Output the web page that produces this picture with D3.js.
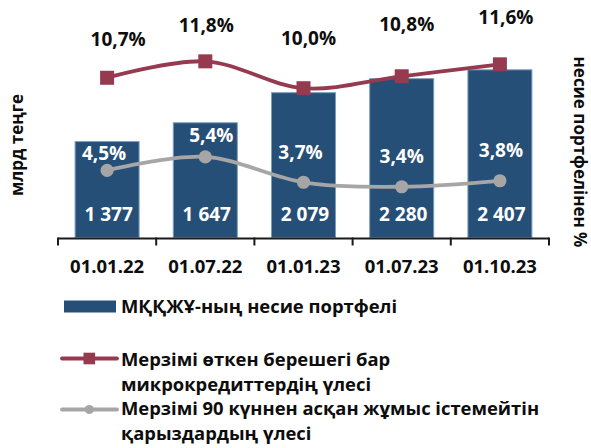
<!DOCTYPE html>
<html>
<head>
<meta charset="utf-8">
<script src="https://cdn.jsdelivr.net/npm/d3@7"></script>
<style>
  html, body { margin: 0; padding: 0; background: #fff; }
  svg { display: block; }
  text { font-family: "Open Sans", "Noto Sans", sans-serif; font-weight: 700; }
</style>
</head>
<body>
<svg id="chart" width="591" height="448"></svg>
<script>
// Dates of the reporting periods
const categories = ["01.01.22", "01.07.22", "01.01.23", "01.07.23", "01.10.23"];
// Loan portfolio, bn tenge
const portfolio = [1377, 1647, 2079, 2280, 2407];
// Share of microcredits with overdue debt, %
const overdueShare = [10.7, 11.8, 10.0, 10.8, 11.6];
// Share of non-performing loans over 90 days, %
const nplShare = [4.5, 5.4, 3.7, 3.4, 3.8];

const seriesNames = [
  ["МҚҚЖҰ-ның несие портфелі"],
  ["Мерзімі өткен берешегі бар", "микрокредиттердің үлесі"],
  ["Мерзімі 90 күннен асқан жұмыс істемейтін", "қарыздардың үлесі"]
];
const leftTitle = "млрд теңге";
const rightTitle = "несие портфелінен %";

// Hand-placed label nudges (dx, dy from the marker)
const overdueLabelShift = [[11, -38], [1, -36], [5, -50], [5, -52], [6, -47]];
const nplLabelShift = [[-3, -17], [6, -21], [-3, -30], [0, -30], [1, -30]];

const colors = { bar: "#264f78", barEdge: "#7d9cbd", red: "#963a50", gray: "#a6a6a6", text: "#0d0d0d" };

const locale = d3.formatLocale({ decimal: ",", thousands: "\u00a0", grouping: [3], currency: ["", ""] });
const fmtInt = locale.format(",d");
const fmtPct = v => locale.format(".1f")(v) + "%";

const svg = d3.select("#chart");
const plot = { left: 58, right: 549, top: 28.5, bottom: 237.5 };

const x = d3.scaleBand().domain(categories).range([plot.left, plot.right])
  .paddingInner(0.338).paddingOuter(0.169);
const y = d3.scaleLinear().domain([0, 3000]).range([plot.bottom, plot.top]);
const y2 = d3.scaleLinear().domain([0, 14]).range([plot.bottom, plot.top]);
const cx = c => x(c) + x.bandwidth() / 2;

// Bars
svg.append("g").selectAll("rect").data(portfolio).join("rect")
  .attr("x", (d, i) => x(categories[i]) + 0.5)
  .attr("y", d => y(d))
  .attr("width", x.bandwidth() - 1)
  .attr("height", d => y(0) - y(d))
  .attr("fill", colors.bar)
  .attr("stroke", colors.barEdge)
  .attr("stroke-width", 1);

// X axis with ticks between categories
const axisY = plot.bottom + 1;
const ax = svg.append("g").attr("stroke", "#1a1a1a").attr("stroke-width", 2);
ax.append("line").attr("x1", plot.left).attr("x2", plot.right).attr("y1", axisY).attr("y2", axisY);
const step = x.step();
ax.selectAll("line.tick").data(d3.range(categories.length + 1)).join("line")
  .attr("class", "tick")
  .attr("x1", i => plot.left + i * step).attr("x2", i => plot.left + i * step)
  .attr("y1", axisY - 1).attr("y2", axisY + 7);

svg.append("g").selectAll("text").data(categories).join("text")
  .attr("x", d => cx(d))
  .attr("y", 273)
  .attr("text-anchor", "middle")
  .attr("font-size", 18.5)
  .attr("fill", colors.text)
  .text(d => d);

// Smoothed lines
const line = d3.line().x((d, i) => cx(categories[i])).y(d => y2(d)).curve(d3.curveCatmullRom.alpha(0.5));

svg.append("path").datum(nplShare).attr("d", line)
  .attr("fill", "none").attr("stroke", colors.gray).attr("stroke-width", 3.8);
svg.append("path").datum(overdueShare).attr("d", line)
  .attr("fill", "none").attr("stroke", colors.red).attr("stroke-width", 3.8);

svg.append("g").selectAll("circle").data(nplShare).join("circle")
  .attr("cx", (d, i) => cx(categories[i])).attr("cy", d => y2(d)).attr("r", 6.6)
  .attr("fill", colors.gray);
svg.append("g").selectAll("rect").data(overdueShare).join("rect")
  .attr("x", (d, i) => cx(categories[i]) - 7).attr("y", d => y2(d) - 7)
  .attr("width", 14).attr("height", 14)
  .attr("fill", colors.red);

// Value labels
svg.append("g").selectAll("text").data(portfolio).join("text")
  .attr("x", (d, i) => cx(categories[i]) + 1.5)
  .attr("y", y(0) - 23.5)
  .attr("dy", "0.35em")
  .attr("text-anchor", "middle").attr("font-size", 19).attr("fill", "#fff")
  .text(d => fmtInt(d));

svg.append("g").selectAll("text").data(nplShare).join("text")
  .attr("x", (d, i) => cx(categories[i]) + nplLabelShift[i][0])
  .attr("y", d => y2(d))
  .attr("dy", (d, i) => nplLabelShift[i][1] + 6.6)
  .attr("text-anchor", "middle").attr("font-size", 19).attr("fill", "#fff")
  .text(d => fmtPct(d));

svg.append("g").selectAll("text").data(overdueShare).join("text")
  .attr("x", (d, i) => cx(categories[i]) + overdueLabelShift[i][0])
  .attr("y", d => y2(d))
  .attr("dy", (d, i) => overdueLabelShift[i][1] + 6.6)
  .attr("text-anchor", "middle").attr("font-size", 19).attr("fill", colors.text)
  .text(d => fmtPct(d));

// Axis titles
svg.append("text")
  .attr("transform", "translate(23,145) rotate(-90)")
  .attr("text-anchor", "middle").attr("font-size", 17).attr("fill", colors.text)
  .text(leftTitle);
svg.append("text")
  .attr("transform", "translate(574,152) rotate(90)")
  .attr("text-anchor", "middle").attr("font-size", 17).attr("fill", colors.text)
  .text(rightTitle);

// Legend
const lg = svg.append("g");
lg.append("rect").attr("x", 64).attr("y", 300.5).attr("width", 52).attr("height", 12).attr("fill", colors.bar);
lg.append("line").attr("x1", 62).attr("x2", 117).attr("y1", 358.5).attr("y2", 358.5)
  .attr("stroke", colors.red).attr("stroke-width", 3.8).attr("stroke-linecap", "round");
lg.append("rect").attr("x", 83.5).attr("y", 352.7).attr("width", 11.6).attr("height", 11.6).attr("fill", colors.red);
lg.append("line").attr("x1", 62).attr("x2", 117).attr("y1", 409.5).attr("y2", 409.5)
  .attr("stroke", colors.gray).attr("stroke-width", 3.8).attr("stroke-linecap", "round");
lg.append("circle").attr("cx", 89.3).attr("cy", 409.5).attr("r", 4.6).attr("fill", colors.gray);

const legendBaselines = [[313], [366, 391], [415, 440]];
seriesNames.forEach((lines, k) => {
  lines.forEach((t, j) => {
    lg.append("text").attr("x", 121).attr("y", legendBaselines[k][j])
      .attr("font-size", 18.4).attr("fill", colors.text).text(t);
  });
});
</script>
</body>
</html>
